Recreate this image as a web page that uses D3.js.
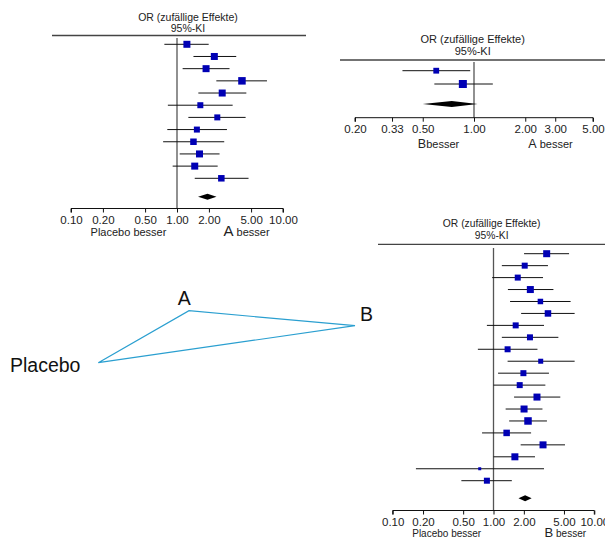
<!DOCTYPE html>
<html>
<head>
<meta charset="utf-8">
<script src="https://cdn.jsdelivr.net/npm/d3@7"></script>
<style>
  html, body { margin: 0; padding: 0; background: #fff; }
  svg { display: block; font-family: "Liberation Sans", Arial, sans-serif; }
</style>
</head>
<body>
<div id="chart"></div>
<script>
// Forest plots of a network meta-analysis: A vs Placebo, A vs B, B vs Placebo

// --- data: A vs Placebo (12 studies + pooled)
const orAP = [1.24, 2.25, 1.88, 4.10, 2.67, 1.66, 2.40, 1.54, 1.43, 1.63, 1.47, 2.62];
const loAP = [0.76, 1.43, 1.13, 2.35, 1.59, 0.82, 1.28, 0.81, 0.74, 1.06, 0.91, 1.47];
const hiAP = [1.99, 3.62, 3.13, 7.06, 4.51, 3.35, 4.44, 2.96, 2.79, 2.52, 2.42, 4.73];
const sizeAP = [7, 7, 7, 7.5, 7, 6, 6, 6, 6.5, 7, 7, 6.5];
const pooledAP = [1.94, 1.58, 2.36];
const ticksAP = [0.1, 0.2, 0.5, 1, 2, 5, 10];

// --- data: A vs B (2 studies + pooled)
const orAB = [0.60, 0.86];
const loAB = [0.38, 0.585];
const hiAB = [0.95, 1.29];
const sizeAB = [5.8, 8];
const pooledAB = [0.74, 0.50, 1.05];
const ticksAB = [0.2, 0.33, 0.5, 1, 2, 3, 5];

// --- data: B vs Placebo (20 studies + pooled)
const orBP = [3.37, 2.04, 1.74, 2.32, 2.92, 3.47, 1.66, 2.30, 1.38, 2.94,
              1.98, 1.82, 2.70, 2.01, 2.20, 1.35, 3.10, 1.63, 0.73, 0.86];
const loBP = [2.01, 1.21, 0.97, 1.39, 1.46, 1.88, 0.86, 1.21, 0.70, 1.38,
              1.11, 1.00, 1.60, 1.32, 1.43, 0.77, 1.86, 1.00, 0.17, 0.48];
const hiBP = [5.62, 3.47, 3.10, 3.93, 5.82, 6.38, 3.17, 4.40, 2.73, 6.38,
              3.55, 3.27, 4.60, 3.06, 3.39, 2.36, 5.12, 2.58, 3.17, 1.52];
const sizeBP = [7, 6, 6, 7, 5.5, 6.5, 6, 6, 6, 5,
                6, 6, 7, 7, 7.5, 6.5, 7, 7, 3, 6];
const pooledBP = [2.06, 1.77, 2.39];
const ticksBP = [0.1, 0.2, 0.5, 1, 2, 5, 10];

// --- network diagram
const netNodes = ["Placebo", "A", "B"];

const W = 605, H = 541;
const svg = d3.select("#chart").append("svg")
  .attr("width", W).attr("height", H);

const fmt = d3.format(".2f");

function forest(o) {
  const g = svg.append("g");
  const x = d3.scaleLog().domain(o.domain).range(o.xRange);
  const n = o.or.length;
  const y = d3.scaleLinear().domain([0, n - 1]).range(o.rowRange);

  // header
  g.append("text").attr("x", o.titleX).attr("y", o.titleY)
    .attr("text-anchor", "middle").attr("font-size", o.titleSize)
    .attr("fill", "#222").text("OR (zufällige Effekte)");
  g.append("text").attr("x", o.titleX).attr("y", o.titleY + o.titleGap)
    .attr("text-anchor", "middle").attr("font-size", o.titleSize)
    .attr("fill", "#222").text("95%-KI");
  g.append("line")
    .attr("x1", o.ruleX[0]).attr("x2", o.ruleX[1])
    .attr("y1", o.ruleY).attr("y2", o.ruleY)
    .attr("stroke", "#444").attr("stroke-width", 1.3);

  // line of no effect
  g.append("line")
    .attr("x1", x(1)).attr("x2", x(1))
    .attr("y1", o.refTop).attr("y2", o.axisY)
    .attr("stroke", "#555").attr("stroke-width", 1.3);

  // CIs
  g.selectAll("line.ci").data(d3.range(n)).enter().append("line")
    .attr("class", "ci")
    .attr("x1", i => x(o.lo[i])).attr("x2", i => x(o.hi[i]))
    .attr("y1", i => y(i)).attr("y2", i => y(i))
    .attr("stroke", "#111").attr("stroke-width", 1);

  // study squares
  g.selectAll("rect.sq").data(d3.range(n)).enter().append("rect")
    .attr("class", "sq")
    .attr("x", i => x(o.or[i]) - o.size[i] / 2)
    .attr("y", i => y(i) - o.size[i] / 2)
    .attr("width", i => o.size[i]).attr("height", i => o.size[i])
    .attr("fill", "#0000b4");

  // pooled diamond
  const [pe, pl, ph] = o.pooled;
  const dy = o.diamondY, dh = o.diamondH;
  g.append("path")
    .attr("d", `M${x(pl)},${dy}L${x(pe)},${dy - dh}L${x(ph)},${dy}L${x(pe)},${dy + dh}Z`)
    .attr("fill", "#000");

  // axis
  const axis = d3.axisBottom(x).tickValues(o.ticks).tickFormat(fmt).tickSize(4).tickPadding(3);
  const ax = g.append("g").attr("transform", `translate(0,${o.axisY})`).call(axis);
  ax.select(".domain").attr("stroke", "#111").attr("d", `M${o.xRange[0]},4V0H${o.xRange[1]}V4`);
  ax.selectAll(".tick line").attr("stroke", "#111");
  ax.selectAll(".tick text").attr("font-size", o.tickSize).attr("fill", "#222")
    .attr("font-family", "Liberation Sans, Arial, sans-serif");

  // favours labels
  o.favours.forEach(f => {
    const t = g.append("text").attr("x", f.x).attr("y", o.favY)
      .attr("text-anchor", "middle").attr("font-size", o.favSize).attr("fill", "#222");
    if (f.big) {
      t.append("tspan").attr("font-size", f.big).text(f.lead);
      t.append("tspan").text(f.rest);
    } else {
      t.text(f.lead + f.rest);
    }
  });
}

forest({
  or: orAP, lo: loAP, hi: hiAP, size: sizeAP, pooled: pooledAP, ticks: ticksAP,
  domain: [0.1, 10], xRange: [71, 283], rowRange: [44.3, 178.3],
  titleX: 188, titleY: 20.5, titleGap: 11.5, titleSize: 10.5,
  ruleX: [52, 306], ruleY: 35.5, refTop: 38, axisY: 208.5,
  diamondY: 196.7, diamondH: 3, tickSize: 11.5, favY: 235.5, favSize: 11,
  favours: [
    { x: 128.5, lead: "Placebo besser", rest: "" },
    { x: 246.5, lead: "A", rest: " besser", big: 15 }
  ]
});

forest({
  or: orAB, lo: loAB, hi: hiAB, size: sizeAB, pooled: pooledAB, ticks: ticksAB,
  domain: [0.2, 5], xRange: [355, 593], rowRange: [70.7, 84],
  titleX: 472.7, titleY: 42.5, titleGap: 12.5, titleSize: 11,
  ruleX: [340, 605], ruleY: 60, refTop: 62, axisY: 117.7,
  diamondY: 104, diamondH: 3, tickSize: 11.5, favY: 147.5, favSize: 11,
  favours: [
    { x: 438.5, lead: "B", rest: "besser", big: 12.5 },
    { x: 550.5, lead: "A", rest: " besser", big: 12.5 }
  ]
});

forest({
  or: orBP, lo: loBP, hi: hiBP, size: sizeBP, pooled: pooledBP, ticks: ticksBP,
  domain: [0.1, 10], xRange: [392.7, 594.3], rowRange: [253.7, 480.7],
  titleX: 491.7, titleY: 227.3, titleGap: 12, titleSize: 10.3,
  ruleX: [378, 605], ruleY: 244.3, refTop: 248, axisY: 510.5,
  diamondY: 498.3, diamondH: 3, tickSize: 11.5, favY: 537.3, favSize: 10,
  favours: [
    { x: 446.7, lead: "Placebo besser", rest: "" },
    { x: 565.3, lead: "B", rest: " besser", big: 13 }
  ]
});

// network triangle (layout positions of the three treatments)
const netPos = { Placebo: [98.3, 362.7], A: [189, 310.7], B: [355, 325.7] };
const netLabel = {
  Placebo: { x: 10, y: 371.7, anchor: "start" },
  A: { x: 184.3, y: 305, anchor: "middle" },
  B: { x: 366.5, y: 320.7, anchor: "middle" }
};
svg.append("path")
  .attr("d", d3.line()(netNodes.map(k => netPos[k])) + "Z")
  .attr("fill", "none").attr("stroke", "#2a9fd0").attr("stroke-width", 1.2);
svg.selectAll("text.net").data(netNodes).enter().append("text")
  .attr("class", "net")
  .attr("x", d => netLabel[d].x).attr("y", d => netLabel[d].y)
  .attr("text-anchor", d => netLabel[d].anchor)
  .attr("font-size", 19.5).attr("fill", "#111")
  .text(d => d);
</script>
</body>
</html>
